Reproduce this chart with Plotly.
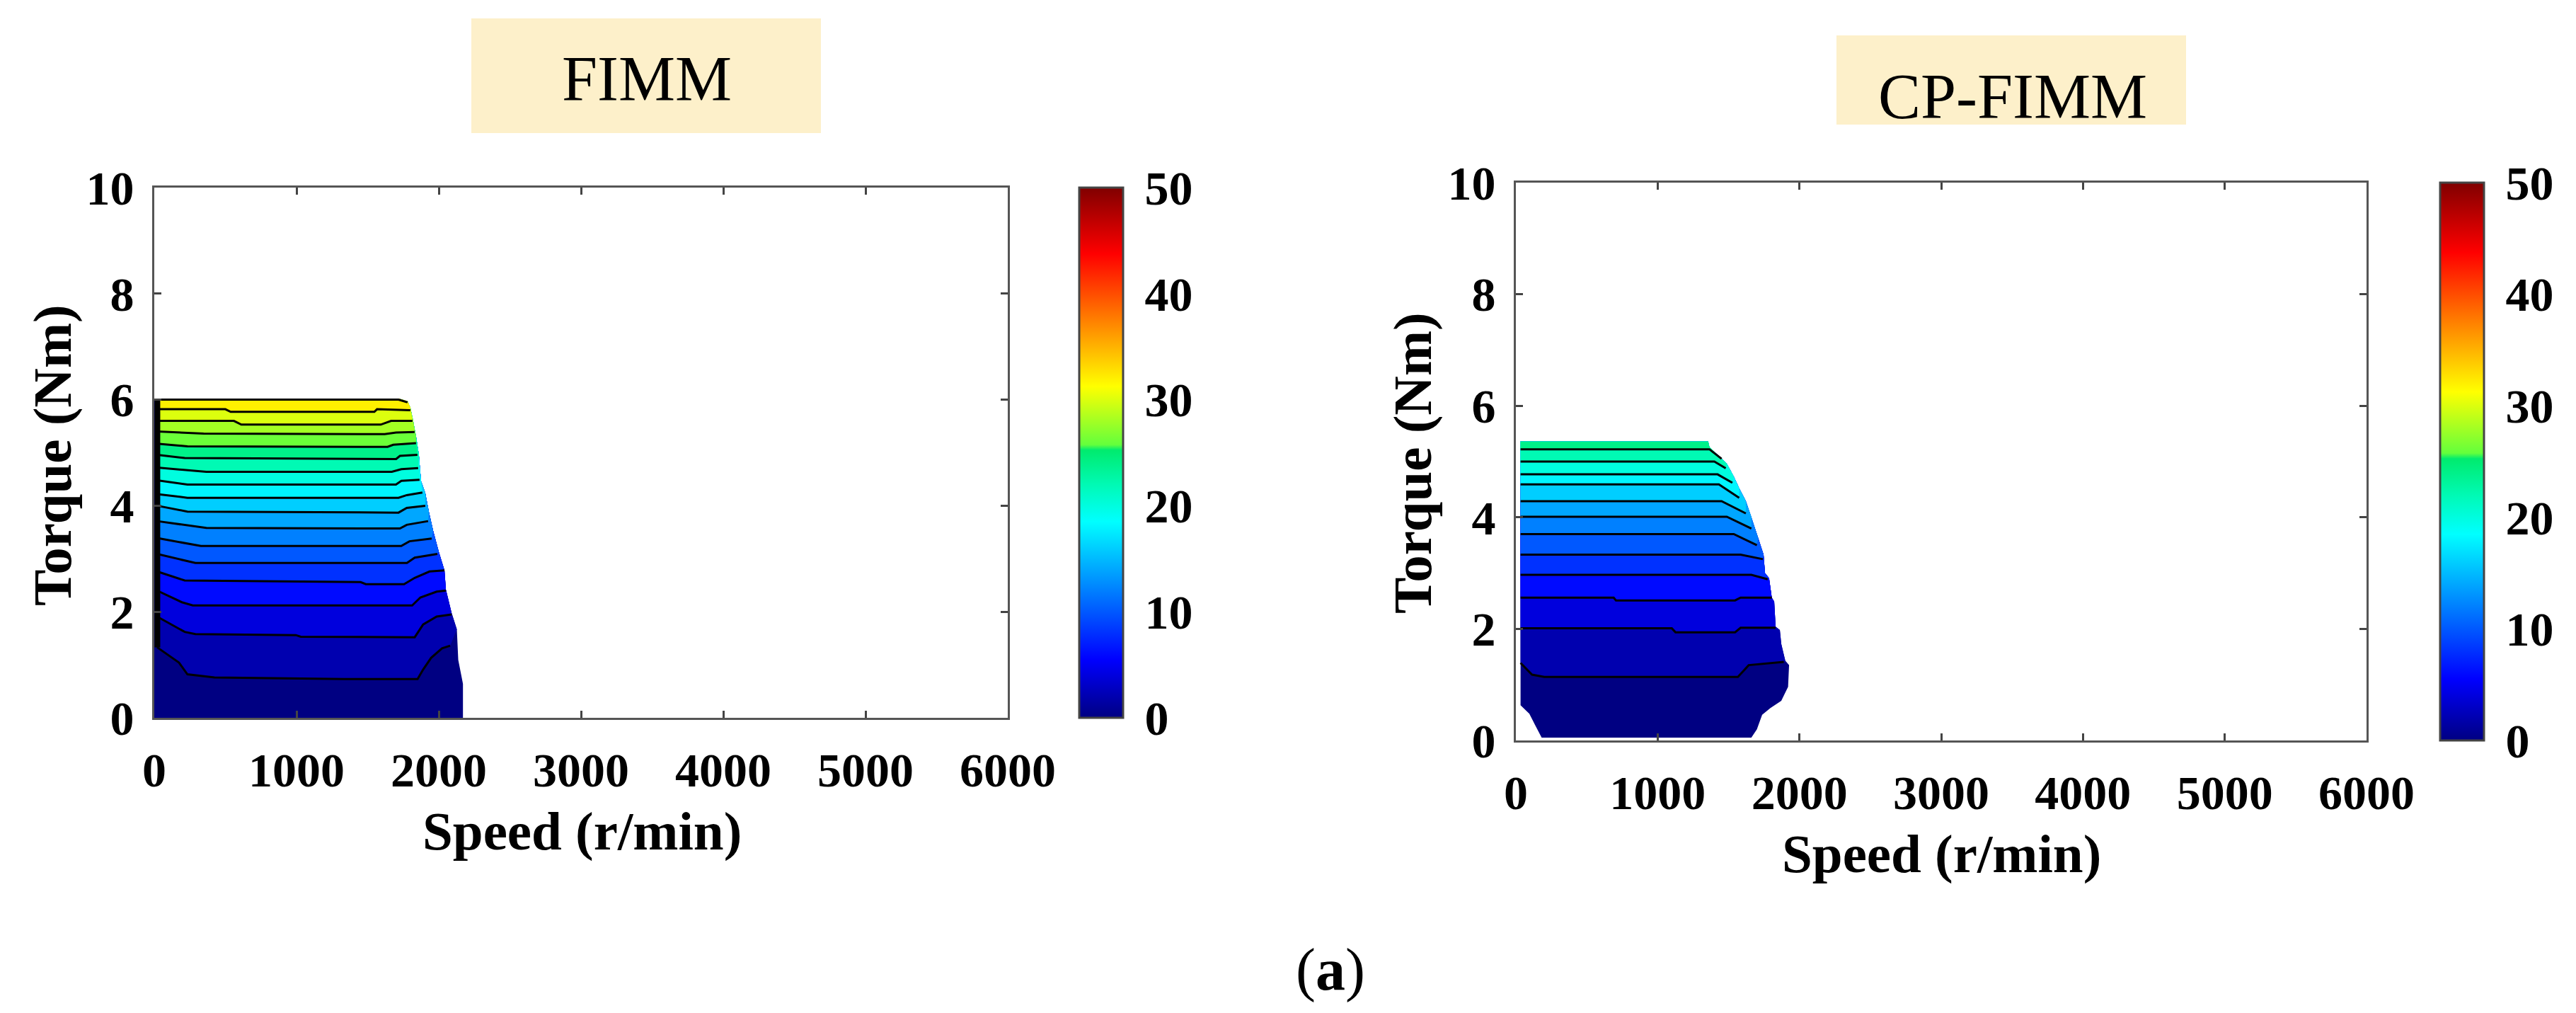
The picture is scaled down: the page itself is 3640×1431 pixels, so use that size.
import plotly.graph_objects as go
from plotly.colors import sample_colorscale

W, H = 3640, 1431

# ---------------- colour scale (jet-like) ----------
cs_pos = [0.0, 0.11, 0.37, 0.44, 0.505, 0.515, 0.625, 0.875, 1.0]
cs_col = ["rgb(0,0,130)", "rgb(0,0,255)", "rgb(0,255,255)", "rgb(0,250,180)",
          "rgb(0,235,110)", "rgb(100,255,60)", "rgb(255,255,0)", "rgb(255,0,0)",
          "rgb(128,0,0)"]
cbar_min, cbar_max = 0, 50
cbar_ticks = [0, 10, 20, 30, 40, 50]

# ---------------- FIMM (left) ----------------
fimm_base_level = 0
fimm_levels = [2, 4, 6, 8, 10, 12, 14, 16, 18, 20, 22, 24, 26, 28, 30, 32, 34]
fimm_line_speed = [
    [20, 174, 233, 423, 1337, 1851, 1890, 1946, 2023, 2080],
    [20, 214, 289, 995, 1030, 1831, 1890, 1985, 2090],
    [20, 194, 271, 1813, 1871, 1985, 2050],
    [20, 214, 1451, 1487, 1756, 1831, 1935, 2040],
    [20, 289, 1776, 1831, 1990],
    [20, 328, 1736, 1794, 1950],
    [20, 366, 1727, 1775, 1925],
    [20, 233, 1717, 1775, 1905],
    [20, 233, 1717, 1775, 1885],
    [20, 233, 1699, 1737, 1865],
    [20, 366, 1670, 1737, 1855],
    [20, 214, 1700, 1727, 1850],
    [20, 233, 1640, 1680, 1840],
    [20, 347, 1620, 1700, 1830],
    [20, 560, 612, 1592, 1665, 1815],
    [20, 500, 537, 1547, 1566, 1800],
    [20, 1717, 1780],
]
fimm_line_torque = [
    [1.33, 1.04, 0.82, 0.76, 0.73, 0.73, 0.91, 1.13, 1.31, 1.36],
    [1.91, 1.62, 1.58, 1.56, 1.53, 1.52, 1.76, 1.91, 1.95],
    [2.40, 2.18, 2.12, 2.12, 2.27, 2.38, 2.40],
    [2.76, 2.59, 2.56, 2.52, 2.52, 2.64, 2.76, 2.78],
    [3.09, 2.92, 2.92, 3.02, 3.09],
    [3.39, 3.24, 3.24, 3.33, 3.38],
    [3.71, 3.58, 3.57, 3.64, 3.71],
    [4.00, 3.89, 3.87, 3.96, 4.00],
    [4.22, 4.15, 4.15, 4.20, 4.25],
    [4.48, 4.40, 4.40, 4.47, 4.49],
    [4.72, 4.64, 4.64, 4.69, 4.71],
    [4.96, 4.90, 4.88, 4.94, 4.96],
    [5.17, 5.12, 5.11, 5.15, 5.18],
    [5.40, 5.36, 5.35, 5.38, 5.39],
    [5.60, 5.60, 5.53, 5.53, 5.60, 5.60],
    [5.82, 5.82, 5.77, 5.77, 5.82, 5.80],
    [6.00, 6.00, 5.95],
]
# outer (max-torque) boundary, bottom to top
fimm_edge_speed = [2170, 2170, 2137, 2127, 2090, 2050, 2040, 2000, 1960, 1930,
                   1905, 1875, 1860, 1840, 1820, 1800, 1780, 1717]
fimm_edge_torque = [0.0, 0.64, 1.09, 1.67, 1.98, 2.42, 2.78, 3.13, 3.53, 3.89,
                    4.24, 4.47, 4.96, 5.31, 5.60, 5.85, 5.97, 6.02]
fimm_low_speed = [0, 0]          # lower-left corner of the map
fimm_low_torque = [6.02, 0.0]
fimm_left_line_speed = [22, 22]  # dense contour pile-up at zero speed
fimm_left_line_torque = [1.33, 6.02]
fimm_top_torque = 6.02

# ---------------- CP-FIMM (right) ----------------
cp_base_level = 0
cp_levels = [2, 4, 6, 8, 10, 12, 14, 16, 18, 20, 22, 24]
cp_line_speed = [
    [33, 114, 200, 1566, 1642, 1890],
    [33, 1100, 1126, 1546, 1585, 1832],
    [33, 690, 706, 1546, 1585, 1805],
    [33, 1661, 1776],
    [33, 1585, 1742],
    [33, 1537, 1700],
    [33, 1488, 1661],
    [33, 1451, 1622],
    [33, 1432, 1575],
    [33, 1423, 1527],
    [33, 1400, 1480],
    [33, 1365, 1451],
]
cp_line_torque = [
    [1.39, 1.18, 1.14, 1.14, 1.35, 1.41],
    [2.01, 2.01, 1.94, 1.94, 2.02, 2.02],
    [2.56, 2.56, 2.51, 2.51, 2.56, 2.56],
    [2.97, 2.97, 2.89],
    [3.33, 3.33, 3.25],
    [3.70, 3.70, 3.50],
    [4.01, 4.01, 3.80],
    [4.29, 4.29, 4.07],
    [4.59, 4.59, 4.35],
    [4.77, 4.77, 4.62],
    [5.00, 5.00, 4.88],
    [5.22, 5.22, 5.05],
]
cp_edge_speed = [1661, 1700, 1737, 1795, 1872, 1920, 1927, 1900, 1872, 1862,
                 1832, 1822, 1805, 1786, 1757, 1747, 1709, 1661, 1622, 1575,
                 1537, 1488, 1451, 1365, 1356]
cp_edge_torque = [0.05, 0.20, 0.46, 0.58, 0.71, 0.96, 1.35, 1.43, 1.73, 1.98,
                  2.04, 2.49, 2.56, 2.91, 3.00, 3.33, 3.63, 4.01, 4.29, 4.52,
                  4.73, 4.96, 5.05, 5.26, 5.36]
cp_low_speed = [33, 33, 95, 133, 170, 182]
cp_low_torque = [5.36, 0.63, 0.48, 0.29, 0.12, 0.05]
cp_top_torque = 5.36

x_ticks = [0, 1000, 2000, 3000, 4000, 5000, 6000]
y_ticks = [0, 2, 4, 6, 8, 10]

colorscale = [[p, c] for p, c in zip(cs_pos, cs_col)]


def level_color(v):
    return sample_colorscale(colorscale, [(v - cbar_min) / (cbar_max - cbar_min)])[0]


fig = go.Figure()


def add_map(xa, ya, base_level, levels, lsp, ltq, esp, etq, low_sp, low_tq, top_tq):
    # base region
    bx = low_sp[1:] + esp + [low_sp[0]]
    by = low_tq[1:] + etq + [top_tq]
    fig.add_trace(go.Scatter(x=bx, y=by, fill="toself", mode="lines",
                             line=dict(width=0), fillcolor=level_color(base_level),
                             xaxis=xa, yaxis=ya, hoverinfo="skip", showlegend=False))
    left_sp = lsp[0][0]
    for lev, sp, tq in zip(levels, lsp, ltq):
        end_t = tq[-1]
        px = list(sp) + [s for s, t in zip(esp, etq) if t > end_t] + [left_sp]
        py = list(tq) + [t for t in etq if t > end_t] + [top_tq]
        fig.add_trace(go.Scatter(x=px, y=py, fill="toself", mode="lines",
                                 line=dict(width=0), fillcolor=level_color(lev),
                                 xaxis=xa, yaxis=ya, hoverinfo="skip", showlegend=False))
    for sp, tq in zip(lsp, ltq):
        fig.add_trace(go.Scatter(x=sp, y=tq, mode="lines",
                                 line=dict(color="black", width=3),
                                 xaxis=xa, yaxis=ya, hoverinfo="skip", showlegend=False))


add_map("x", "y", fimm_base_level, fimm_levels, fimm_line_speed, fimm_line_torque,
        fimm_edge_speed, fimm_edge_torque, fimm_low_speed, fimm_low_torque, fimm_top_torque)
fig.add_trace(go.Scatter(x=fimm_left_line_speed, y=fimm_left_line_torque, mode="lines",
                         line=dict(color="black", width=8), xaxis="x", yaxis="y",
                         hoverinfo="skip", showlegend=False))
add_map("x2", "y2", cp_base_level, cp_levels, cp_line_speed, cp_line_torque,
        cp_edge_speed, cp_edge_torque, cp_low_speed, cp_low_torque, cp_top_torque)

tick_font = dict(family="Liberation Serif", size=68, color="black", weight="bold")


def cbar(x_px, top_px, bot_px):
    return dict(x=x_px / W, xanchor="left", xref="paper",
                y=1 - (top_px + bot_px) / 2 / H, yanchor="middle", yref="paper",
                len=(bot_px - top_px) / H, lenmode="fraction",
                thickness=62, thicknessmode="pixels", xpad=0, ypad=0,
                outlinewidth=3, outlinecolor="#444",
                tickvals=cbar_ticks,
                ticks="outside", ticklen=16, tickwidth=1,
                tickcolor="rgba(0,0,0,0)", tickfont=tick_font)


# invisible markers that carry the two colour bars
fig.add_trace(go.Scatter(x=[fimm_line_speed[0][0]], y=[fimm_line_torque[0][0]], mode="markers",
                         marker=dict(size=1, opacity=0, color=[fimm_base_level],
                                     cmin=cbar_min, cmax=cbar_max, colorscale=colorscale,
                                     showscale=True, colorbar=cbar(1525, 265, 1014)),
                         xaxis="x", yaxis="y", hoverinfo="skip", showlegend=False))
fig.add_trace(go.Scatter(x=[cp_line_speed[0][0]], y=[cp_line_torque[0][0]], mode="markers",
                         marker=dict(size=1, opacity=0, color=[cp_base_level],
                                     cmin=cbar_min, cmax=cbar_max, colorscale=colorscale,
                                     showscale=True, colorbar=cbar(3448, 258, 1046)),
                         xaxis="x2", yaxis="y2", hoverinfo="skip", showlegend=False))

axis_common = dict(showline=True, linecolor="#555", linewidth=3, mirror="ticks",
                   ticks="inside", ticklen=10, tickwidth=3, tickcolor="#444",
                   showgrid=False, zeroline=False, tickfont=tick_font, automargin=False)

fig.update_layout(
    width=W, height=H, margin=dict(l=0, r=0, t=0, b=0, pad=0, autoexpand=False),
    paper_bgcolor="white", plot_bgcolor="white", showlegend=False,
    xaxis=dict(domain=[218 / W, 1424 / W], range=[0, 6000], tickvals=x_ticks,
               anchor="y", ticklabelstandoff=12, **axis_common),
    yaxis=dict(domain=[1 - 1014 / H, 1 - 265 / H], range=[0, 10], tickvals=y_ticks,
               anchor="x", ticklabelstandoff=12, **axis_common),
    xaxis2=dict(domain=[2142 / W, 3344 / W], range=[0, 6000], tickvals=x_ticks,
                anchor="y2", ticklabelstandoff=12, **axis_common),
    yaxis2=dict(domain=[1 - 1046 / H, 1 - 258 / H], range=[0, 10], tickvals=y_ticks,
                anchor="x2", ticklabelstandoff=12, **axis_common),
)

box_fill = "#FDF0CA"
fig.add_shape(type="rect", xref="paper", yref="paper", x0=666 / W, x1=1160 / W,
              y0=1 - 188 / H, y1=1 - 26 / H, fillcolor=box_fill, line=dict(width=0), layer="below")
fig.add_shape(type="rect", xref="paper", yref="paper", x0=2595 / W, x1=3089 / W,
              y0=1 - 176 / H, y1=1 - 50 / H, fillcolor=box_fill, line=dict(width=0), layer="below")

title_font = dict(family="Liberation Serif", size=90, color="black")
label_font = dict(family="Liberation Serif", size=77, color="black", weight="bold")


def ann(text, xp, yp, font, angle=0):
    fig.add_annotation(text=text, x=xp / W, y=1 - yp / H, xref="paper", yref="paper",
                       xanchor="center", yanchor="middle", showarrow=False,
                       font=font, textangle=angle)


ann("FIMM", 914, 112, title_font)
ann("CP-FIMM", 2844, 136, title_font)
ann("Speed (r/min)", 822, 1174, label_font)
ann("Speed (r/min)", 2743, 1206, label_font)
ann("Torque (Nm)", 74, 643, label_font, -90)
ann("Torque (Nm)", 1996, 654, label_font, -90)
ann("(<b>a</b>)", 1880, 1370, dict(family="Liberation Serif", size=84, color="black"))

fig.write_html("out.html", config={"displayModeBar": False},
               post_script="document.body.style.margin='0px';")
